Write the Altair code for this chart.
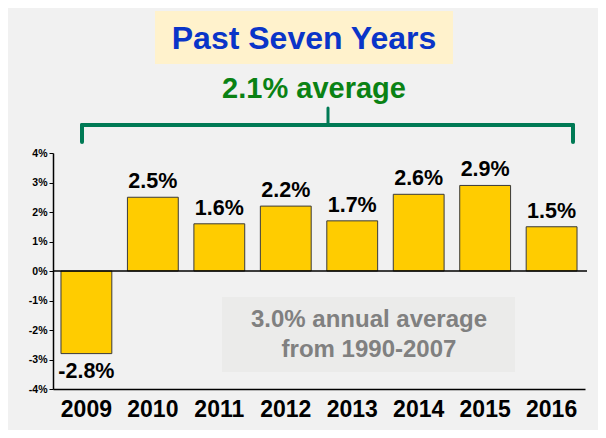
import altair as alt
import pandas as pd

years = ["2009", "2010", "2011", "2012", "2013", "2014", "2015", "2016"]
growth = [-2.8, 2.5, 1.6, 2.2, 1.7, 2.6, 2.9, 1.5]
y_ticks = [-4, -3, -2, -1, 0, 1, 2, 3, 4]

title_text = "Past Seven Years"
avg_text = "2.1% average"
note_lines = ["3.0% annual average", "from 1990-2007"]

df = pd.DataFrame({"year": years, "growth": growth})
df["label"] = [f"{v:.1f}%" for v in growth]

FONT = "Liberation Sans"
W, H = 532, 236

x_enc = alt.X("year:N", sort=years,
              scale=alt.Scale(paddingInner=0.235, paddingOuter=0.12),
              axis=alt.Axis(title=None, orient="bottom", ticks=False, labelAngle=0,
                            labelFont=FONT, labelFontSize=23, labelFontWeight="bold",
                            labelColor="black", labelPadding=9,
                            domainColor="black", domainWidth=1.5, offset=0))
y_scale = alt.Scale(domain=[-4, 4], nice=False)
y_axis = alt.Axis(title=None, values=y_ticks, labelExpr="datum.value + '%'",
                  labelOverlap=False, tickCount=9,
                  labelFont=FONT, labelFontSize=10.5, labelFontWeight="bold",
                  labelColor="black", tickColor="black", tickSize=4,
                  labelPadding=2, grid=False, domainColor="black",
                  domainWidth=1.5)
y_enc = alt.Y("growth:Q", scale=y_scale, axis=y_axis)

base = alt.Chart(df)

bars = base.mark_bar(color="#ffcc00", stroke="#3a3a3a", strokeWidth=1).encode(
    x=x_enc, y=y_enc
)

pos_labels = base.transform_filter("datum.growth >= 0").mark_text(
    font=FONT, fontSize=21.5, fontWeight="bold", color="black",
    baseline="bottom", dy=-4
).encode(x=x_enc, y=y_enc, text="label:N")

neg_labels = base.transform_filter("datum.growth < 0").mark_text(
    font=FONT, fontSize=21.5, fontWeight="bold", color="black",
    baseline="top", dy=7
).encode(x=x_enc, y=y_enc, text="label:N")

zero = alt.Chart(alt.Data(values=[{"growth": 0}])).mark_rule(
    color="black", strokeWidth=1.5
).encode(y=y_enc, x=alt.value(0), x2=alt.value(W + 2))

one = alt.Data(values=[{}])

title_box = alt.Chart(one).mark_rect(color="#fff2cc").encode(
    x=alt.value(102), x2=alt.value(400), y=alt.value(-142), y2=alt.value(-89)
)
title_mark = alt.Chart(one).mark_text(
    text=title_text, font=FONT, fontSize=32, fontWeight="bold", color="#0a35c8",
    align="center", baseline="middle"
).encode(x=alt.value(251), y=alt.value(-114))

avg_mark = alt.Chart(one).mark_text(
    text=avg_text, font=FONT, fontSize=29, fontWeight="bold", color="#0a8214",
    align="center", baseline="middle"
).encode(x=alt.value(261), y=alt.value(-64))

brk = "#007a55"
bw = 4
br_h = alt.Chart(one).mark_rule(color=brk, strokeWidth=bw, strokeCap="round").encode(
    x=alt.value(29), x2=alt.value(520), y=alt.value(-28)
)
br_l = alt.Chart(one).mark_rule(color=brk, strokeWidth=bw, strokeCap="round").encode(
    x=alt.value(29), y=alt.value(-28), y2=alt.value(-11)
)
br_r = alt.Chart(one).mark_rule(color=brk, strokeWidth=bw, strokeCap="round").encode(
    x=alt.value(520), y=alt.value(-28), y2=alt.value(-11)
)
br_m = alt.Chart(one).mark_rule(color=brk, strokeWidth=3, strokeCap="round").encode(
    x=alt.value(275), y=alt.value(-45), y2=alt.value(-28)
)

note_box = alt.Chart(one).mark_rect(color="#ebebea").encode(
    x=alt.value(169), x2=alt.value(462), y=alt.value(144), y2=alt.value(219)
)
note_mark = alt.Chart(one).mark_text(
    text=note_lines, font=FONT, fontSize=24, fontWeight="bold", color="#808080",
    align="center", baseline="middle", lineHeight=30
).encode(x=alt.value(316), y=alt.value(167))

chart = alt.layer(
    title_box, title_mark, avg_mark, note_box, note_mark,
    bars, zero, pos_labels, neg_labels,
    br_h, br_l, br_r, br_m
).properties(
    width=W, height=H,
    background="#f1f1f1",
    padding={"left": 45, "top": 145, "right": 13, "bottom": 41},
    autosize=alt.AutoSizeParams(type="none")
).configure_view(stroke=None)

chart.save("out.html", embed_options={"renderer": "svg", "actions": False})
